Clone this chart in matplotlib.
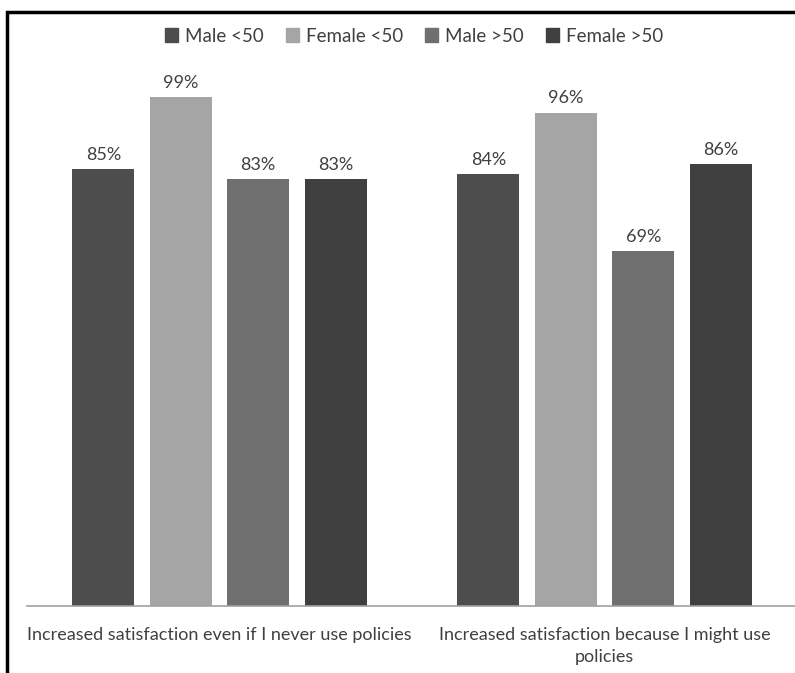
import numpy as np
import matplotlib.pyplot as plt
from matplotlib.patches import Rectangle, Patch

categories = ['Increased satisfaction even if I never use policies',
              'Increased satisfaction because I might use\npolicies']
series = ['Male <50', 'Female <50', 'Male >50', 'Female >50']
values = [
    [85, 84],   # Male <50
    [99, 96],   # Female <50
    [83, 69],   # Male >50
    [83, 86],   # Female >50
]
colors = ['#4d4d4d', '#a5a5a5', '#6f6f6f', '#3f3f3f']
text_color = '#404040'

plt.rcParams['font.family'] = ['Lato', 'DejaVu Sans']

fig = plt.figure(figsize=(7.95, 6.73), dpi=100)
ax = fig.add_axes([27/795, (673-606)/673, 770/795, 520/673])

x = np.arange(len(categories))
width = 0.161
step = 0.201
for i, (name, vals) in enumerate(zip(series, values)):
    pos = x + (i - 1.5) * step
    bars = ax.bar(pos, vals, width, color=colors[i], label=name, zorder=2)
    for b, v in zip(bars, vals):
        ax.text(b.get_x() + b.get_width()/2, v + 1.2, f'{v}%', ha='center',
                va='bottom', fontsize=13, color=text_color)

ax.set_xlim(-0.5, 1.5)
ax.set_ylim(0, 520/5.14)
ax.set_yticks([])
ax.set_xticks(x)
ax.set_xticklabels(categories, fontsize=13, color=text_color, linespacing=1.5)
ax.tick_params(axis='x', length=0, pad=15)
for s in ['left', 'right', 'top']:
    ax.spines[s].set_visible(False)
ax.spines['bottom'].set_color('#a0a0a0')
ax.spines['bottom'].set_linewidth(1.2)

handles = [Patch(color=c) for c in colors]
fig.legend(handles, series, loc='center', bbox_to_anchor=(414/795, 1 - 36/673),
           ncol=4, frameon=False, fontsize=13.5, handlelength=0.7, handleheight=0.7,
           handletextpad=0.35, columnspacing=1.2, labelcolor=text_color)

# outer frame
fig.patches.append(Rectangle((7/795, -0.1), 1.1, 1 - 12/673 + 0.1, transform=fig.transFigure,
                             fill=False, edgecolor='black', linewidth=2.5, figure=fig))

fig.savefig('out.png', dpi=100)
